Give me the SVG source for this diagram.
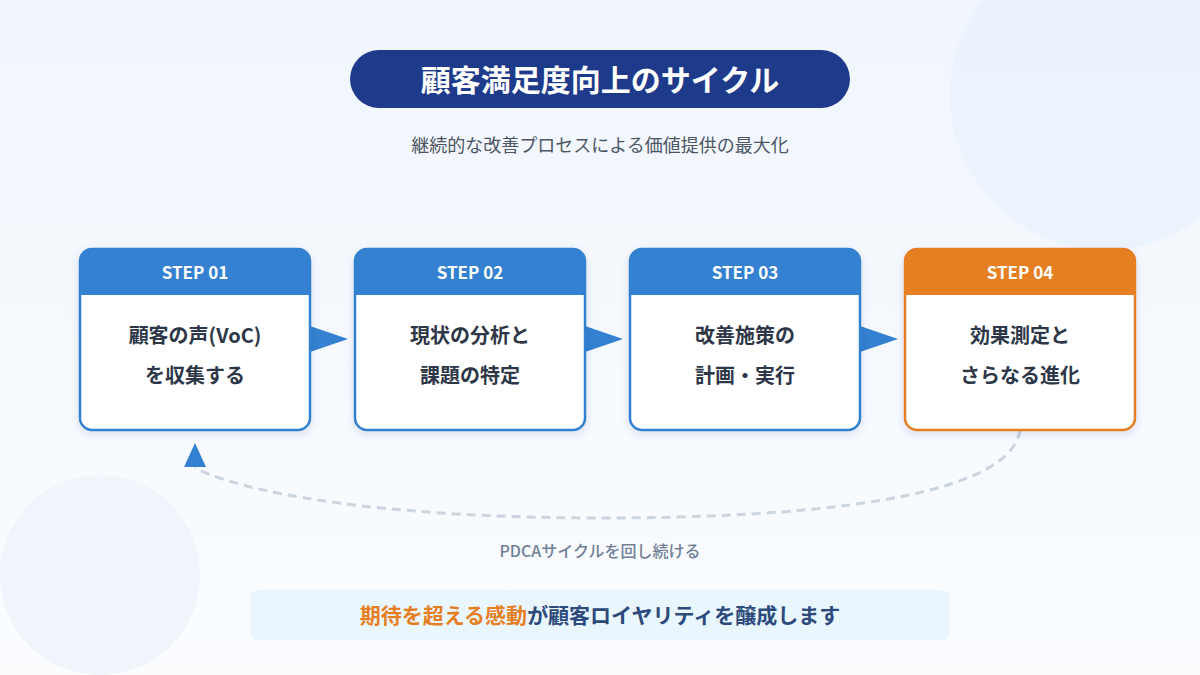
<svg xmlns="http://www.w3.org/2000/svg" width="1200" height="675" viewBox="0 0 1200 675">
<defs>
<linearGradient id="bg" x1="0" y1="0" x2="0" y2="1"><stop offset="0" stop-color="#f1f6fd"/><stop offset="1" stop-color="#fafcfe"/></linearGradient>
<filter id="sh" x="-10%" y="-10%" width="120%" height="130%"><feDropShadow dx="0" dy="3" stdDeviation="4" flood-color="#1e3a8a" flood-opacity="0.12"/></filter>
<style>
text{font-family:"Noto Sans CJK JP","Noto Sans",sans-serif;text-anchor:middle}
.card{fill:#fff;stroke-width:2.5}
.blue .card{stroke:#3381d0}.blue .hd{fill:#3381d0}
.orange .card{stroke:#e67e22}.orange .hd{fill:#e67e22}
.hdt{fill:#fff;font-size:17px;font-weight:700}
.body{fill:#2d3748;font-size:20px;font-weight:700}
.arr{fill:#3381d0}
</style>
</defs>
<rect width="1200" height="675" fill="url(#bg)"/>
<circle cx="1105" cy="95" r="155" fill="#e9f1fc" opacity="0.8"/>
<circle cx="100" cy="575" r="100" fill="#eef3fa" opacity="0.8"/>
<g id="title"><rect x="350" y="50" width="500" height="58" rx="29" fill="#1e3a8a"/><text x="600" y="91" font-size="30" font-weight="700" fill="#fff">顧客満足度向上のサイクル</text></g>
<text x="600" y="152" font-size="18" fill="#4b5563">継続的な改善プロセスによる価値提供の最大化</text>
<g id="connectors">
<polygon class="arr" points="310,326 348,339 310,352"/>
<polygon class="arr" points="585,326 623,339 585,352"/>
<polygon class="arr" points="860,326 898,339 860,352"/>
<path d="M1020,430 C1010,500 800,518 600,518 C420,518 260,500 195,468" fill="none" stroke="#cbd5e0" stroke-width="3" stroke-dasharray="9 6"/>
<polygon class="arr" points="195,443 206,467 184,467"/>
</g>
<g id="step1" class="blue"><rect class="card" x="80" y="249" width="230" height="181" rx="12" filter="url(#sh)"/><path class="hd" d="M80,295 V261 a12,12 0 0 1 12,-12 H298 a12,12 0 0 1 12,12 V295 Z"/><text class="hdt" x="195" y="279">STEP 01</text><text class="body" x="195" y="343">顧客の声(VoC)</text><text class="body" x="195" y="383">を収集する</text></g>
<g id="step2" class="blue"><rect class="card" x="355" y="249" width="230" height="181" rx="12" filter="url(#sh)"/><path class="hd" d="M355,295 V261 a12,12 0 0 1 12,-12 H573 a12,12 0 0 1 12,12 V295 Z"/><text class="hdt" x="470" y="279">STEP 02</text><text class="body" x="470" y="343">現状の分析と</text><text class="body" x="470" y="383">課題の特定</text></g>
<g id="step3" class="blue"><rect class="card" x="630" y="249" width="230" height="181" rx="12" filter="url(#sh)"/><path class="hd" d="M630,295 V261 a12,12 0 0 1 12,-12 H848 a12,12 0 0 1 12,12 V295 Z"/><text class="hdt" x="745" y="279">STEP 03</text><text class="body" x="745" y="343">改善施策の</text><text class="body" x="745" y="383">計画・実行</text></g>
<g id="step4" class="orange"><rect class="card" x="905" y="249" width="230" height="181" rx="12" filter="url(#sh)"/><path class="hd" d="M905,295 V261 a12,12 0 0 1 12,-12 H1123 a12,12 0 0 1 12,12 V295 Z"/><text class="hdt" x="1020" y="279">STEP 04</text><text class="body" x="1020" y="343">効果測定と</text><text class="body" x="1020" y="383">さらなる進化</text></g>
<text x="600" y="557" font-size="16" font-weight="500" fill="#718096">PDCAサイクルを回し続ける</text>
<g id="message"><rect x="250" y="590" width="700" height="50" rx="8" fill="#eaf6fd"/><text x="600" y="623" font-size="21" font-weight="700"><tspan fill="#e67e22">期待を超える感動</tspan><tspan fill="#2c4a7c">が顧客ロイヤリティを醸成します</tspan></text></g>
</svg>
